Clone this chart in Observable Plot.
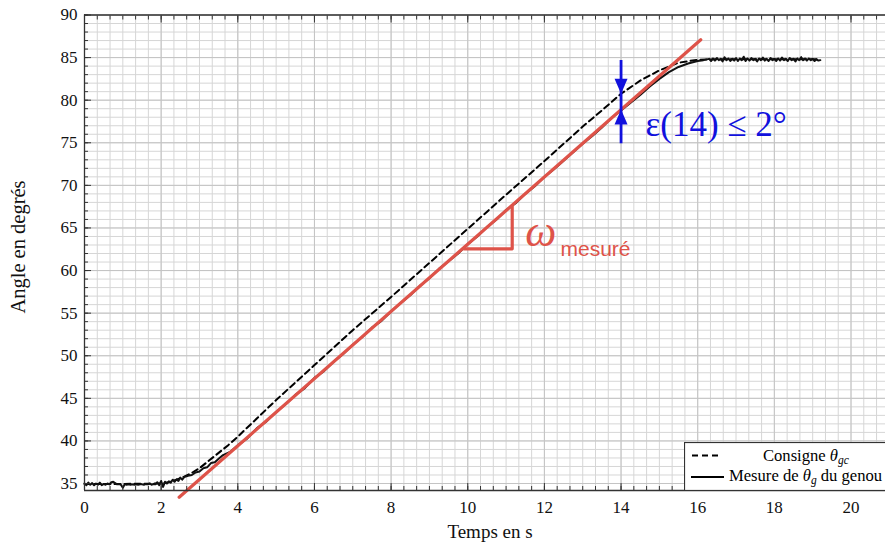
<!DOCTYPE html>
<html>
<head>
<meta charset="utf-8">
<script src="https://cdn.jsdelivr.net/npm/d3@7"></script>
<script src="https://cdn.jsdelivr.net/npm/@observablehq/plot@0.6"></script>
<style>
  html, body { margin: 0; padding: 0; background: white; overflow: hidden; }
  #wrap { position: relative; width: 885px; height: 542px; font-family: "Liberation Serif", serif; color: #111; }
  .lab { position: absolute; white-space: nowrap; transform: translate(-50%, -50%); }
  #ylab { font-size: 20.5px; transform: translate(-50%, -50%) rotate(-90deg); }
  #xlab { font-size: 19px; }
  #legend { position: absolute; left: 684px; top: 442px; }
</style>
</head>
<body>
<div id="wrap">
  <div id="chart"></div>
  <div class="lab" id="ylab" style="left:18px; top:247px;">Angle en degrés</div>
  <div class="lab" id="xlab" style="left:490px; top:532px;">Temps en s</div>
  <svg id="legend" width="201" height="49" font-family="Liberation Serif" font-size="16.6">
    <rect x="0.5" y="0.5" width="205" height="48" fill="white" stroke="#333" stroke-width="1.2"></rect>
    <line x1="8" x2="34" y1="13.5" y2="13.5" stroke="#000" stroke-width="2" stroke-dasharray="6,4"></line>
    <text x="79" y="18.5">Consigne <tspan font-style="italic">θ</tspan><tspan font-style="italic" font-size="11.5" dy="3">gc</tspan></text>
    <line x1="7" x2="40" y1="35" y2="35" stroke="#000" stroke-width="2"></line>
    <text x="45" y="38.5">Mesure de <tspan font-style="italic">θ</tspan><tspan font-style="italic" font-size="11.5" dy="3">g</tspan><tspan dy="-3"> du genou</tspan></text>
  </svg>
</div>
<script>
// ---- Data ----
// Consigne θgc (dashed)
const tConsigne = [0, 1.0, 2.0, 2.2, 2.4, 2.6, 2.8, 3.0, 3.25, 3.5, 3.75, 4.0, 5.0, 6.0, 7.0, 8.0, 9.0, 10.0, 11.0, 12.0, 13.0, 13.5, 14.0, 14.5, 15.0, 15.5, 16.0, 16.5, 17.0, 18.0, 19.2];
const thetaConsigne = [34.95, 34.95, 35.0, 35.15, 35.45, 35.8, 36.25, 36.8, 37.7, 38.6, 39.5, 40.5, 44.8, 48.9, 53.0, 56.9, 60.9, 64.9, 68.9, 72.85, 76.9, 78.8, 80.75, 82.3, 83.5, 84.4, 84.75, 84.8, 84.8, 84.8, 84.8];

// Mesure de θg du genou (solid, noisy)
const tMesure = [
  0.00, 0.05, 0.10, 0.15, 0.20, 0.25, 0.30, 0.35, 0.40, 0.45, 0.50, 0.55, 0.60, 0.65, 0.70, 0.75, 0.80, 0.85, 0.90, 0.95,
  1.00, 1.05, 1.10, 1.15, 1.20, 1.25, 1.30, 1.35, 1.40, 1.45, 1.50, 1.55, 1.60, 1.65, 1.70, 1.75, 1.80, 1.85, 1.90, 1.95,
  2.00, 2.05, 2.10, 2.15, 2.20, 2.25, 2.30, 2.35, 2.40, 2.45, 2.50, 2.55, 2.60, 2.70, 2.80, 2.90, 3.00, 3.10, 3.20, 3.30,
  3.40, 3.50, 3.60, 3.80,
  4.0, 4.25, 4.5, 4.75, 5.0, 5.25, 5.5, 5.75, 6.0, 6.25, 6.5, 6.75, 7.0, 7.25, 7.5, 7.75,
  8.0, 8.25, 8.5, 8.75, 9.0, 9.25, 9.5, 9.75, 10.0, 10.25, 10.5, 10.75, 11.0, 11.25, 11.5, 11.75,
  12.0, 12.25, 12.5, 12.75, 13.0, 13.25, 13.5, 13.75, 14.0, 14.25, 14.5, 14.75, 15.0, 15.25, 15.5, 15.75,
  16.0, 16.15, 16.30, 16.35, 16.40, 16.45, 16.50, 16.55, 16.60, 16.65, 16.70, 16.75, 16.80, 16.85, 16.90, 16.95,
  17.00, 17.05, 17.10, 17.15, 17.20, 17.25, 17.30, 17.35, 17.40, 17.45, 17.50, 17.55, 17.60, 17.65, 17.70, 17.75,
  17.80, 17.85, 17.90, 17.95, 18.00, 18.05, 18.10, 18.15, 18.20, 18.25, 18.30, 18.35, 18.40, 18.45, 18.50, 18.55,
  18.60, 18.65, 18.70, 18.75, 18.80, 18.85, 18.90, 18.95, 19.00, 19.05, 19.10, 19.15, 19.20
];
const thetaMesure = [
  35.0, 34.8, 35.1, 34.85, 35.05, 34.8, 35.0, 34.85, 35.1, 34.8, 34.95, 34.85, 35.0, 34.9, 35.15, 35.2, 35.05, 34.9, 34.95, 34.85,
  34.5, 34.9, 34.85, 34.9, 34.85, 34.9, 34.85, 34.9, 34.85, 34.9, 34.9, 34.85, 34.95, 34.9, 35.0, 34.85, 34.95, 34.9, 35.15, 34.8,
  35.3, 34.6, 35.2, 35.0, 35.25, 35.1, 35.45, 35.2, 35.5, 35.3, 35.7, 35.45, 35.75, 35.9, 36.0, 36.3, 36.4, 36.8, 36.9, 37.4,
  37.5, 37.9, 38.3, 38.7,
  39.5, 40.3, 41.5, 42.3, 43.4, 44.3, 45.4, 46.2, 47.4, 48.2, 49.3, 50.2, 51.3, 52.2, 53.3, 54.1,
  55.2, 56.2, 57.1, 58.2, 59.1, 60.2, 61.1, 62.0, 63.1, 64.0, 65.1, 66.0, 67.1, 67.9, 69.0, 69.9,
  71.0, 71.9, 72.9, 73.9, 74.9, 75.8, 76.8, 77.9, 78.8, 79.7, 80.6, 81.6, 82.5, 83.3, 83.9, 84.3,
  84.6, 84.7, 84.85, 84.6, 84.9, 84.65, 84.95, 84.7, 84.85, 84.55, 85.05, 84.7, 84.9, 84.6, 84.85, 84.65,
  84.95, 84.6, 84.9, 84.7, 85.1, 84.6, 84.9, 84.65, 84.95, 84.7, 84.85, 84.55, 84.9, 84.7, 85.0, 84.65,
  84.85, 84.6, 84.95, 84.7, 84.85, 84.6, 84.9, 84.65, 85.0, 84.7, 84.85, 84.6, 84.95, 84.7, 84.85, 84.55,
  84.9, 84.7, 85.05, 84.7, 84.9, 84.65, 84.9, 84.7, 84.85, 84.6, 84.8, 84.65, 84.7
];

// Tangent (red) and slope triangle
const tTangente = [2.47, 16.08];
const thetaTangente = [33.39, 87.09];
const tOmega = [9.9, 11.16, 11.16];
const thetaOmega = [62.55, 62.55, 67.55];

// Error annotation at t = 14
const tErreur = [14];
const thetaErreurHaut = [84.66];
const thetaErreurBas = [74.88];
const thetaPointeHaut = [80.75];   // tip of downward arrow (consigne)
const thetaPointeBas = [78.9];     // tip of upward arrow (mesure)

// Annotation texts
const texteEpsilon = ["ε(14) ≤ 2°"];
const posEpsilon = [14.64, 77.15];
const texteOmega = ["ω"];
const posOmega = [11.5, 64.5];
const texteMesure = ["mesuré"];
const posMesure = [12.42, 62.55];

// Axes
const xTicks = [0, 2, 4, 6, 8, 10, 12, 14, 16, 18, 20];
const yTicks = [35, 40, 45, 50, 55, 60, 65, 70, 75, 80, 85, 90];
const xDomain = [0, 20.9];
const yDomain = [34.18, 90];

// ---- Build tables ----
const consigne = tConsigne.map((t, i) => ({t, theta: thetaConsigne[i]}));
const mesure = tMesure.map((t, i) => ({t, theta: thetaMesure[i]}));
const tangente = tTangente.map((t, i) => ({t, theta: thetaTangente[i]}));
const omegaTri = tOmega.map((t, i) => ({t, theta: thetaOmega[i]}));
const xMinor = d3.range(0, 63).map(k => k / 3).filter(v => v <= xDomain[1]);
const yMinor = d3.range(35, 91);

const RED = "#de5349";
const BLUE = "#1111dd";
const AXIS = "#333";

const downHead = { draw(ctx) { ctx.moveTo(0, 0); ctx.lineTo(-6.5, -15); ctx.lineTo(6.5, -15); ctx.closePath(); } };
const upHead = { draw(ctx) { ctx.moveTo(0, 0); ctx.lineTo(-6.5, 15); ctx.lineTo(6.5, 15); ctx.closePath(); } };

const chart = Plot.plot({
  width: 885,
  height: 542,
  marginLeft: 84,
  marginRight: 0,
  marginTop: 14.5,
  marginBottom: 52,
  x: {domain: xDomain},
  y: {domain: yDomain},
  style: {fontFamily: "Liberation Serif", fontSize: "17px", color: "#111", background: "transparent", overflow: "visible"},
  marks: [
    Plot.gridX(xMinor, {stroke: "#d6d6d6", strokeOpacity: 1, strokeWidth: 1}),
    Plot.gridY(yMinor, {stroke: "#d6d6d6", strokeOpacity: 1, strokeWidth: 1}),
    Plot.gridX(xTicks, {stroke: "#c4c4c4", strokeOpacity: 1, strokeWidth: 1}),
    Plot.gridY(yTicks, {stroke: "#c4c4c4", strokeOpacity: 1, strokeWidth: 1}),
    Plot.line(consigne, {x: "t", y: "theta", stroke: "#000", strokeWidth: 2, strokeDasharray: "6,4"}),
    Plot.line(mesure, {x: "t", y: "theta", stroke: "#111", strokeWidth: 2}),
    Plot.line(tangente, {x: "t", y: "theta", stroke: RED, strokeWidth: 3.2}),
    Plot.line(omegaTri, {x: "t", y: "theta", stroke: RED, strokeWidth: 3.2}),
    Plot.ruleX(tErreur, {x: d => d, y1: thetaErreurBas[0], y2: thetaErreurHaut[0], stroke: BLUE, strokeWidth: 2.8}),
    Plot.dot(tErreur, {x: d => d, y: thetaPointeHaut, symbol: downHead, r: 5, fill: BLUE, stroke: null}),
    Plot.dot(tErreur, {x: d => d, y: thetaPointeBas, symbol: upHead, r: 5, fill: BLUE, stroke: null}),
    Plot.text(texteEpsilon, {x: [posEpsilon[0]], y: [posEpsilon[1]], text: d => d, textAnchor: "start", fill: BLUE, fontSize: 35, fontFamily: "Liberation Serif"}),
    Plot.text(texteOmega, {x: [posOmega[0]], y: [posOmega[1]], text: d => d, textAnchor: "start", fill: RED, fontSize: 44, fontStyle: "italic", fontFamily: "Liberation Serif"}),
    Plot.text(texteMesure, {x: [posMesure[0]], y: [posMesure[1]], text: d => d, textAnchor: "start", fill: RED, fontSize: 21, fontFamily: "Liberation Sans"}),
    // frame (left, bottom, top)
    Plot.ruleX([xDomain[0]], {stroke: AXIS, strokeWidth: 1.3}),
    Plot.ruleY([yDomain[0]], {stroke: AXIS, strokeWidth: 1.3}),
    Plot.ruleY([yDomain[1]], {stroke: AXIS, strokeWidth: 1.3}),
    // inward ticks
    Plot.axisY(yMinor, {anchor: "left", tickSize: -4, tickFormat: () => "", label: null, stroke: AXIS}),
    Plot.axisY(yTicks, {anchor: "left", tickSize: -7, tickFormat: () => "", label: null, stroke: AXIS}),
    Plot.axisX(xMinor, {anchor: "bottom", tickSize: -4, tickFormat: () => "", label: null, stroke: AXIS}),
    Plot.axisX(xTicks, {anchor: "bottom", tickSize: -7, tickFormat: () => "", label: null, stroke: AXIS}),
    Plot.axisX(xMinor, {anchor: "top", tickSize: -4, tickFormat: () => "", label: null, stroke: AXIS}),
    Plot.axisX(xTicks, {anchor: "top", tickSize: -7, tickFormat: () => "", label: null, stroke: AXIS}),
    // labels
    Plot.axisY(yTicks, {anchor: "left", tickSize: 0, tickPadding: 7, label: null, fill: "#111"}),
    Plot.axisX(xTicks, {anchor: "bottom", tickSize: 0, tickPadding: 10, label: null, fill: "#111"})
  ]
});
document.getElementById("chart").appendChild(chart);
</script>
</body>
</html>
